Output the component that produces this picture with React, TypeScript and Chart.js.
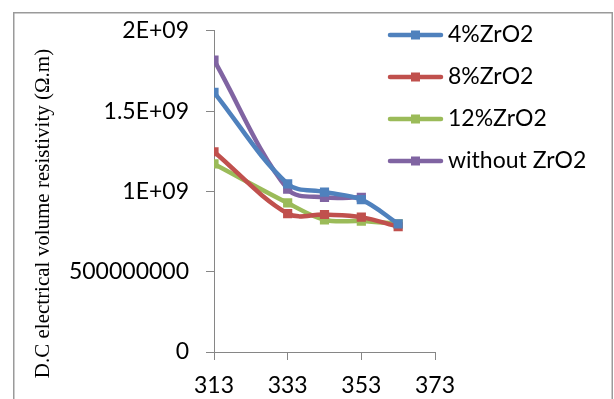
import { useEffect, useRef } from 'react';
import { Chart, registerables } from 'chart.js';

Chart.register(...registerables);

// Temperatures (K) at which resistivity was measured
const temperatures = [313, 333, 343, 353, 363];

// D.C. volume resistivity (Ω.m) for each composition
const zro2Pct4 = [1.617e9, 1.047e9, 0.996e9, 0.949e9, 0.798e9];
const zro2Pct8 = [1.247e9, 0.862e9, 0.856e9, 0.84e9, 0.78e9];
const zro2Pct12 = [1.171e9, 0.928e9, 0.823e9, 0.815e9, 0.798e9];
const withoutZro2 = [1.817e9, 1.014e9, 0.963e9, 0.963e9];

const seriesLabels = ['4%ZrO2', '8%ZrO2', '12%ZrO2', 'without ZrO2'];
const seriesValues = [zro2Pct4, zro2Pct8, zro2Pct12, withoutZro2];
const seriesColors = ['#4F81BD', '#C0504D', '#9BBB59', '#8064A2'];

const xTickValues = [313, 333, 353, 373];
const yTickValues = [0, 5e8, 1e9, 1.5e9, 2e9];
const yTickLabels = ['0', '500000000', '1E+09', '1.5E+09', '2E+09'];
const yAxisTitle = 'D.C electrical volume resistivity (Ω.m)';

const AXIS_GRAY = '#868686';
const TICK_FONT = { family: 'Lato', size: 23 };

// Outer frame around the whole chart
const framePlugin = {
  id: 'frame',
  beforeDraw(chart: any) {
    const { ctx } = chart;
    ctx.save();
    ctx.fillStyle = '#ffffff';
    ctx.fillRect(0, 0, chart.width, chart.height);
    ctx.strokeStyle = '#9a9a9a';
    ctx.lineWidth = 1.5;
    ctx.strokeRect(13.75, 12.75, 598.5, 400);
    ctx.restore();
  },
};

// Rotated serif title for the value axis
const yTitlePlugin = {
  id: 'yTitle',
  afterDraw(chart: any) {
    const { ctx } = chart;
    ctx.save();
    ctx.translate(43.5, 213.5);
    ctx.rotate(-Math.PI / 2);
    ctx.font = '21px "Liberation Serif"';
    ctx.fillStyle = '#000000';
    ctx.textAlign = 'center';
    ctx.textBaseline = 'middle';
    ctx.fillText(yAxisTitle, 0, 0);
    ctx.restore();
  },
};

// Legend: line with a square marker in the middle, label to the right
const lineLegendPlugin = {
  id: 'lineLegend',
  afterDraw(chart: any) {
    const { ctx } = chart;
    ctx.save();
    chart.data.datasets.forEach((ds: any, i: number) => {
      const y = 35 + 42 * i;
      ctx.strokeStyle = ds.borderColor;
      ctx.lineWidth = 4.5;
      ctx.lineCap = 'round';
      ctx.beginPath();
      ctx.moveTo(390, y);
      ctx.lineTo(441, y);
      ctx.stroke();
      ctx.fillStyle = ds.borderColor;
      ctx.fillRect(411, y - 4.5, 9, 9);
      ctx.fillStyle = '#000000';
      ctx.font = '23px Lato';
      ctx.textAlign = 'left';
      ctx.textBaseline = 'middle';
      ctx.fillText(ds.label, 448, y);
    });
    ctx.restore();
  },
};

export default function App() {
  const canvasRef = useRef<HTMLCanvasElement | null>(null);

  useEffect(() => {
    if (!canvasRef.current) return;
    const chart = new Chart(canvasRef.current, {
      type: 'line',
      data: {
        datasets: seriesLabels.map((label, i) => ({
          label,
          data: seriesValues[i].map((v, j) => ({ x: temperatures[j], y: v })),
          borderColor: seriesColors[i],
          backgroundColor: seriesColors[i],
          pointBackgroundColor: seriesColors[i],
          pointBorderColor: seriesColors[i],
          borderWidth: 4.5,
          pointStyle: 'rect',
          pointRadius: 6.5,
          pointBorderWidth: 0,
          tension: 0.35,
          fill: false,
        })),
      },
      options: {
        responsive: false,
        animation: false,
        layout: { padding: { left: 0, top: 28, right: 179, bottom: 0 } },
        plugins: {
          legend: { display: false },
          tooltip: { enabled: false },
        },
        scales: {
          x: {
            type: 'linear',
            min: 313,
            max: 373,
            afterFit: (scale: any) => {
              scale.height = 47;
            },
            afterBuildTicks: (scale: any) => {
              scale.ticks = xTickValues.map((v) => ({ value: v }));
            },
            ticks: {
              font: TICK_FONT,
              color: '#000000',
              padding: 12,
              maxRotation: 0,
              callback: (v: any) => String(v),
            },
            grid: {
              display: true,
              drawOnChartArea: false,
              drawTicks: true,
              tickLength: 8,
              color: AXIS_GRAY,
            },
            border: { display: true, color: AXIS_GRAY, width: 1 },
          },
          y: {
            type: 'linear',
            min: 0,
            max: 2e9,
            afterFit: (scale: any) => {
              scale.width = 214;
            },
            afterBuildTicks: (scale: any) => {
              scale.ticks = yTickValues.map((v) => ({ value: v }));
            },
            ticks: {
              font: TICK_FONT,
              color: '#000000',
              padding: 17,
              callback: (v: any) => {
                const idx = yTickValues.indexOf(Number(v));
                return idx >= 0 ? yTickLabels[idx] : '';
              },
            },
            grid: {
              display: true,
              drawOnChartArea: false,
              drawTicks: true,
              tickLength: 8,
              color: AXIS_GRAY,
            },
            border: { display: true, color: AXIS_GRAY, width: 1 },
          },
        },
      },
      plugins: [framePlugin, yTitlePlugin, lineLegendPlugin],
    });
    return () => chart.destroy();
  }, []);

  return (
    <div style={{ position: 'absolute', left: 0, top: 0, width: 614, height: 399 }}>
      <canvas ref={canvasRef} width={614} height={399} />
    </div>
  );
}
